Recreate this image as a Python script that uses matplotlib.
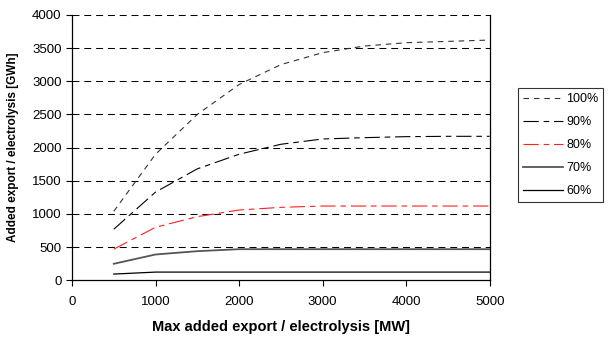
#
#   Added export / electrolysis vs max added export capacity
#

import matplotlib
matplotlib.use("Agg")
import matplotlib.pyplot as plt

plt.rcParams["font.family"] = ["Liberation Sans", "DejaVu Sans"]
plt.rcParams["lines.scale_dashes"] = False

#
#   Data
#

capacity = [500, 1000, 1500, 2000, 2500, 3000, 3500, 4000, 4500, 5000]
share_100 = [1040, 1900, 2500, 2950, 3250, 3430, 3530, 3580, 3600, 3620]
share_90 = [770, 1330, 1680, 1900, 2050, 2130, 2150, 2165, 2170, 2170]
share_80 = [470, 800, 960, 1060, 1100, 1120, 1120, 1120, 1120, 1120]
share_70 = [250, 390, 440, 470, 470, 470, 470, 470, 470, 470]
share_60 = [95, 125, 125, 125, 125, 125, 125, 125, 125, 125]

labels = ["100%", "90%", "80%", "70%", "60%"]
yticks = [0, 500, 1000, 1500, 2000, 2500, 3000, 3500, 4000]
xticks = [0, 1000, 2000, 3000, 4000, 5000]


def make_plot():
    fig = plt.figure(figsize=(6.08, 3.37), dpi=100)
    ax = fig.add_axes([0.1184, 0.168, 0.687, 0.788])

    for y in yticks[1:]:
        ax.axhline(y, color="black", lw=0.75, dashes=(5, 3.5), zorder=1)

    ax.plot(capacity, share_100, color="#333333", lw=0.8, dashes=(4, 3.5),
            label=labels[0], zorder=3)
    ax.plot(capacity, share_90, color="black", lw=0.8, dashes=(11, 3.5, 4, 3.5),
            label=labels[1], zorder=3)
    ax.plot(capacity, share_80, color="#ff2020", lw=0.8, dashes=(11, 3.5, 4, 3.5),
            label=labels[2], zorder=3)
    ax.plot(capacity, share_70, color="#555555", lw=1.3, label=labels[3], zorder=3)
    ax.plot(capacity, share_60, color="black", lw=0.9, label=labels[4], zorder=3)

    ax.set_xlim(0, 5000)
    ax.set_ylim(0, 4000)
    ax.set_xticks(xticks)
    ax.set_yticks(yticks)
    ax.tick_params(labelsize=9.5, length=4, width=0.8, direction="out")
    ax.tick_params(axis="x", pad=7)
    ax.spines["top"].set_visible(False)
    for s in ["left", "bottom", "right"]:
        ax.spines[s].set_linewidth(0.9)

    ax.set_xlabel("Max added export / electrolysis [MW]", fontsize=10.5,
                  fontweight="bold", labelpad=9)
    ax.set_ylabel("Added export / electrolysis [GWh]", fontsize=8.5,
                  fontweight="bold", labelpad=9)

    leg = ax.legend(loc="upper left", bbox_to_anchor=(1.068, 0.724), fontsize=9,
                    frameon=True, fancybox=False, edgecolor="black",
                    handlelength=3.2, handletextpad=0.25, borderpad=0.4,
                    labelspacing=0.88, borderaxespad=0)
    leg.get_frame().set_linewidth(0.8)

    fig.savefig("out.png", dpi=100)


if __name__ == "__main__":
    make_plot()
